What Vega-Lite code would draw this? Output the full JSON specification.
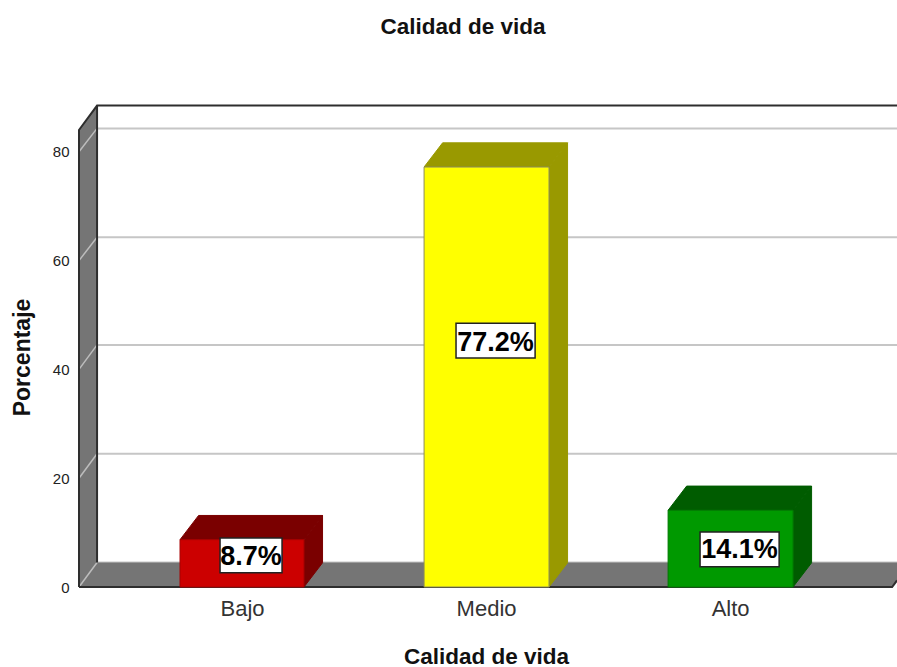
{
"$schema":"https://vega.github.io/schema/vega-lite/v6.json",
"width":818,"height":487,
"autosize":{"type":"none"},
"padding":{"left":79,"top":100,"right":0,"bottom":80},
"background":"white",
"title":{"text":"Calidad de vida","font":"Liberation Sans","fontWeight":"bold","fontSize":22.5,"color":"#111111","anchor":"middle","dx":-25,"offset":62},
"config":{"view":{"stroke":null}},
"datasets":{
"fondo":[
{"parte":"pared","x":0.332,"y":84,"y2":0},{"parte":"pared","x":0.406,"y":88.5,"y2":4.5},
{"parte":"suelo","x":0.332,"y":0,"y2":0},{"parte":"suelo","x":0.406,"y":4.5,"y2":0},{"parte":"suelo","x":3.664,"y":4.5,"y2":0},{"parte":"suelo","x":3.684,"y":4.5,"y2":1.2}
],
"claras":[
{"linea":"f0","x":0.406,"y":4.5},{"linea":"f0","x":3.684,"y":4.5},
{"linea":"f20","x":0.406,"y":24.5},{"linea":"f20","x":3.684,"y":24.5},
{"linea":"f40","x":0.406,"y":44.5},{"linea":"f40","x":3.684,"y":44.5},
{"linea":"f60","x":0.406,"y":64.3},{"linea":"f60","x":3.684,"y":64.3},
{"linea":"f80","x":0.406,"y":84.3},{"linea":"f80","x":3.684,"y":84.3}
],
"diagonales":[
{"linea":"d20","x":0.332,"y":20},{"linea":"d20","x":0.406,"y":24.5},
{"linea":"d40","x":0.332,"y":40},{"linea":"d40","x":0.406,"y":44.5},
{"linea":"d60","x":0.332,"y":60},{"linea":"d60","x":0.406,"y":64.3},
{"linea":"d80","x":0.332,"y":80},{"linea":"d80","x":0.406,"y":84.3},
{"linea":"d0","x":0.332,"y":0},{"linea":"d0","x":0.406,"y":4.5}
],
"oscuras":[
{"linea":"marco","n":1,"x":0.332,"y":0},{"linea":"marco","n":2,"x":0.332,"y":84},{"linea":"marco","n":3,"x":0.406,"y":88.5},{"linea":"marco","n":4,"x":3.684,"y":88.5},
{"linea":"fondo","n":1,"x":0.406,"y":4.5},{"linea":"fondo","n":2,"x":0.406,"y":88.5},
{"linea":"base","n":1,"x":0.332,"y":0},{"linea":"base","n":2,"x":3.664,"y":0},{"linea":"base","n":3,"x":3.684,"y":1.2}
],
"caras":[
{"cara":"Bajo arriba","x":0.746,"y":8.7,"y2":8.7},{"cara":"Bajo arriba","x":0.822,"y":13.15,"y2":8.7},{"cara":"Bajo arriba","x":1.254,"y":13.15,"y2":8.7},{"cara":"Bajo arriba","x":1.33,"y":13.15,"y2":13.15},
{"cara":"Bajo lado","x":1.254,"y":8.7,"y2":0},{"cara":"Bajo lado","x":1.33,"y":13.15,"y2":4.45},
{"cara":"Medio arriba","x":1.746,"y":77.2,"y2":77.2},{"cara":"Medio arriba","x":1.822,"y":81.65,"y2":77.2},{"cara":"Medio arriba","x":2.258,"y":81.65,"y2":77.2},{"cara":"Medio arriba","x":2.334,"y":81.65,"y2":81.65},
{"cara":"Medio lado","x":2.258,"y":77.2,"y2":0},{"cara":"Medio lado","x":2.334,"y":81.65,"y2":4.45},
{"cara":"Alto arriba","x":2.746,"y":14.1,"y2":14.1},{"cara":"Alto arriba","x":2.822,"y":18.55,"y2":14.1},{"cara":"Alto arriba","x":3.258,"y":18.55,"y2":14.1},{"cara":"Alto arriba","x":3.334,"y":18.55,"y2":18.55},
{"cara":"Alto lado","x":3.258,"y":14.1,"y2":0},{"cara":"Alto lado","x":3.334,"y":18.55,"y2":4.45}
],
"barras":[
{"categoria":"Bajo","x":0.746,"x2":1.254,"base":0,"porcentaje":8.7,"etiqueta":"8.7%","cx":1.037,"cy":5.6,"bx":0.91,"bx2":1.164,"by":9.0,"by2":2.6},
{"categoria":"Medio","x":1.746,"x2":2.258,"base":0,"porcentaje":77.2,"etiqueta":"77.2%","cx":2.039,"cy":44.9,"bx":1.877,"bx2":2.201,"by":48.5,"by2":42.1},
{"categoria":"Alto","x":2.746,"x2":3.258,"base":0,"porcentaje":14.1,"etiqueta":"14.1%","cx":3.039,"cy":6.8,"bx":2.877,"bx2":3.201,"by":10.1,"by2":3.7}
]
},
"layer":[
{"data":{"name":"claras"},"mark":{"type":"line","color":"#c6c6c6","strokeWidth":2,"clip":true},
"encoding":{
"x":{"field":"x","type":"quantitative","scale":{"domain":[0.332,3.684],"nice":false,"zero":false},
"axis":{"values":[1,2,3],"labelExpr":"datum.value==1?'Bajo':datum.value==2?'Medio':'Alto'","grid":false,"domain":false,"ticks":false,"labelFont":"Liberation Sans","labelFontSize":22,"labelColor":"#333333","labelPadding":11,"title":"Calidad de vida","titleFont":"Liberation Sans","titleFontWeight":"bold","titleFontSize":22.5,"titleColor":"#111111","titleX":407,"titleY":76,"titleBaseline":"alphabetic"}},
"y":{"field":"y","type":"quantitative","scale":{"domain":[0,89.52],"nice":false},
"axis":{"values":[0,20,40,60,80],"grid":false,"domain":false,"ticks":false,"labelFont":"Liberation Sans","labelFontSize":15,"labelColor":"#222222","labelPadding":10,"title":"Porcentaje","titleFont":"Liberation Sans","titleFontWeight":"bold","titleFontSize":23,"titleColor":"#111111","titleX":-45,"titleY":257,"titleAngle":-90,"titleAlign":"center"}},
"detail":{"field":"linea","type":"nominal"}}},
{"data":{"name":"fondo"},"mark":{"type":"area","color":"#757575","orient":"vertical"},
"encoding":{"x":{"field":"x","type":"quantitative"},"y":{"field":"y","type":"quantitative"},"y2":{"field":"y2"},"detail":{"field":"parte","type":"nominal"}}},
{"data":{"name":"diagonales"},"mark":{"type":"line","color":"#bdbdbd","strokeWidth":1.5},
"encoding":{"x":{"field":"x","type":"quantitative"},"y":{"field":"y","type":"quantitative"},"detail":{"field":"linea","type":"nominal"}}},
{"data":{"name":"oscuras"},"mark":{"type":"line","color":"#2e2e2e","strokeWidth":2},
"encoding":{"x":{"field":"x","type":"quantitative"},"y":{"field":"y","type":"quantitative"},"detail":{"field":"linea","type":"nominal"},"order":{"field":"n","type":"quantitative"}}},
{"data":{"name":"caras"},"mark":{"type":"area","orient":"vertical","strokeWidth":1},
"encoding":{"x":{"field":"x","type":"quantitative"},"y":{"field":"y","type":"quantitative"},"y2":{"field":"y2"},
"fill":{"field":"cara","type":"nominal","legend":null,"scale":{"domain":["Bajo arriba","Bajo lado","Medio arriba","Medio lado","Alto arriba","Alto lado","Bajo","Medio","Alto"],"range":["#7a0000","#7a0000","#999900","#999900","#005c00","#005c00","#cc0000","#ffff00","#009900"]}},
"stroke":{"field":"cara","type":"nominal","legend":null,"scale":{"domain":["Bajo arriba","Bajo lado","Medio arriba","Medio lado","Alto arriba","Alto lado","Bajo","Medio","Alto"],"range":["#7a0000","#7a0000","#999900","#999900","#005c00","#005c00","#a80000","#8c8c5a","#007a00"]}}}},
{"data":{"name":"barras"},"mark":{"type":"rect","strokeWidth":1},
"encoding":{"x":{"field":"x","type":"quantitative"},"x2":{"field":"x2"},"y":{"field":"porcentaje","type":"quantitative"},"y2":{"field":"base"},
"fill":{"field":"categoria","type":"nominal","legend":null,"scale":{"domain":["Bajo arriba","Bajo lado","Medio arriba","Medio lado","Alto arriba","Alto lado","Bajo","Medio","Alto"],"range":["#7a0000","#7a0000","#999900","#999900","#005c00","#005c00","#cc0000","#ffff00","#009900"]}},
"stroke":{"field":"categoria","type":"nominal","legend":null,"scale":{"domain":["Bajo arriba","Bajo lado","Medio arriba","Medio lado","Alto arriba","Alto lado","Bajo","Medio","Alto"],"range":["#7a0000","#7a0000","#999900","#999900","#005c00","#005c00","#a80000","#8c8c5a","#007a00"]}}}},
{"data":{"name":"barras"},"mark":{"type":"rect","fill":"white","stroke":"#222222","strokeWidth":1.5},
"encoding":{"x":{"field":"bx","type":"quantitative"},"x2":{"field":"bx2"},"y":{"field":"by","type":"quantitative"},"y2":{"field":"by2"}}},
{"data":{"name":"barras"},"mark":{"type":"text","font":"Liberation Sans","fontWeight":"bold","fontSize":27,"color":"#000000","baseline":"middle","align":"center"},
"encoding":{"x":{"field":"cx","type":"quantitative"},"y":{"field":"cy","type":"quantitative"},"text":{"field":"etiqueta","type":"nominal"}}}
]
}
